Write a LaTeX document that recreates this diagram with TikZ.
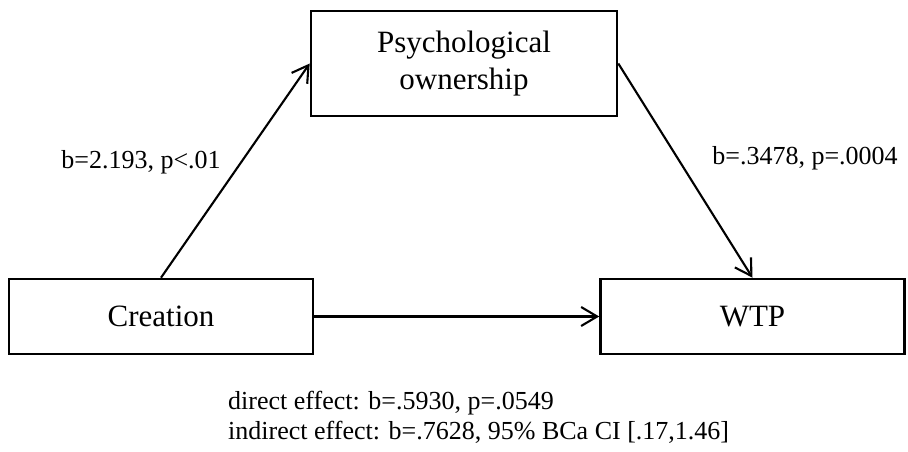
\documentclass[tikz,border=0pt]{standalone}
\usepackage{fontspec}
\setmainfont{Liberation Serif}
\usetikzlibrary{arrows.meta}
\begin{document}
\begin{tikzpicture}[x=1pt,y=-1pt,
  varbox/.style={draw, line width=2.6pt, minimum width=304pt, minimum height=75pt, inner sep=0pt, font=\fontsize{31}{37}\selectfont, align=center},
  conn/.style={line width=2.1pt, -{Straight Barb[length=16pt,width=19pt,line width=2.1pt]}},
  lbl/.style={font=\fontsize{26}{30}\selectfont, inner sep=0pt}]
\useasboundingbox (0,0) rectangle (908,452);
\node[varbox, minimum width=306pt, minimum height=105pt] (po) at (464,63.5) {Psychological\\ownership};
\node[varbox] (cr) at (161,316.5) {Creation};
\node[varbox] (wtp) at (752.5,316.5) {WTP};
\draw[conn] (cr.north) -- (po.west);
\draw[conn] (po.east) -- (wtp.north);
\draw[conn] (cr.east) -- (wtp.west);
\node[lbl] (l1) at (141,162) {b=2.193, p<.01};
\node[lbl] (l2) at (805,158) {b=.3478, p=.0004};
\node[lbl, anchor=north west, align=left] (eff) at (228,391) {direct effect: b=.5930, p=.0549\\indirect effect: b=.7628, 95\% BCa CI [.17,1.46]};
\end{tikzpicture}
\end{document}
